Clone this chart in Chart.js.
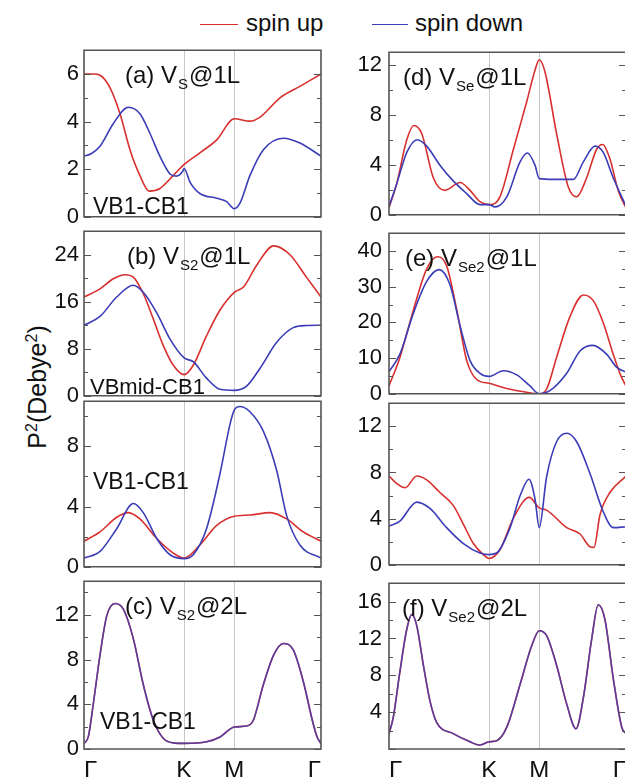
<!DOCTYPE html>
<html>
<head>
<meta charset="utf-8">
<script src="https://cdn.jsdelivr.net/npm/chart.js@4.4.1/dist/chart.umd.min.js"></script>
<style>
  html, body { margin: 0; padding: 0; background: #fff; }
  body { width: 625px; height: 777px; overflow: hidden; position: relative;
         font-family: "Liberation Sans", Arial, sans-serif; color: #111; }
  canvas { position: absolute; }
  .lg-line { position: absolute; height: 0; width: 38px; border-top: 1.6px solid; }
  .lg-text { position: absolute; font-size: 24px; line-height: 24px; white-space: nowrap; }
  #ytitle { position: absolute; left: 37px; top: 387px; font-size: 25px; line-height: 25px;
            white-space: nowrap; transform: translate(-50%, -50%) rotate(-90deg); }
  #ytitle sup { font-size: 16px; vertical-align: 9px; line-height: 0; }
</style>
</head>
<body>
<div class="lg-line" style="left:200px; top:24px; border-color:#d7302f;"></div>
<div class="lg-text" style="left:246px; top:11px;">spin up</div>
<div class="lg-line" style="left:372px; top:24px; width:36px; border-color:#3b3db6;"></div>
<div class="lg-text" style="left:415px; top:11px;">spin down</div>
<div id="ytitle">P<sup>2</sup>(Debye<sup>2</sup>)</div>

<script>
// Squared transition dipole P^2 along the Γ–K–M–Γ path (path length normalised to 1).
const pathLabels = ['Γ', 'K', 'M', 'Γ'];
const pathPos = [0, 0.4226, 0.634, 1];

// (a) V_S @1L, VB1-CB1
const aUpX = [0, 0.04, 0.0675, 0.11, 0.152, 0.194, 0.236, 0.275, 0.32, 0.376, 0.4226, 0.489, 0.56, 0.634, 0.70, 0.743, 0.827, 0.911, 1];
const aUpY = [6.0, 6.0, 5.95, 5.42, 4.33, 2.82, 1.73, 1.08, 1.19, 1.73, 2.2, 2.69, 3.23, 4.12, 4.02, 4.19, 5.0, 5.48, 6.0];
const aDownX = [0, 0.03, 0.0675, 0.124, 0.187, 0.236, 0.278, 0.32, 0.363, 0.39, 0.416, 0.4226, 0.447, 0.489, 0.56, 0.602, 0.634, 0.658, 0.70, 0.757, 0.841, 0.911, 1];
const aDownY = [2.55, 2.65, 2.96, 3.92, 4.6, 4.33, 3.51, 2.55, 1.80, 1.71, 1.9, 2.03, 1.46, 0.98, 0.78, 0.64, 0.34, 0.57, 1.73, 2.82, 3.30, 3.10, 2.55];

// (b) V_S2 @1L, VBmid-CB1
const bUpX = [0, 0.0675, 0.124, 0.173, 0.208, 0.25, 0.293, 0.335, 0.377, 0.4226, 0.461, 0.517, 0.574, 0.634, 0.673, 0.73, 0.80, 0.869, 0.94, 1];
const bUpY = [16.8, 18.2, 19.9, 20.6, 20.2, 17.4, 13.0, 8.5, 5.2, 3.6, 5.2, 10.2, 14.6, 17.6, 18.5, 22.3, 25.5, 24.0, 20.1, 16.8];
const bDownX = [0, 0.0675, 0.138, 0.208, 0.25, 0.307, 0.363, 0.4226, 0.461, 0.517, 0.574, 0.634, 0.686, 0.743, 0.813, 0.883, 0.94, 1];
const bDownY = [12.0, 13.5, 16.8, 18.8, 17.6, 14.1, 9.65, 6.45, 5.8, 3.0, 1.1, 0.93, 1.65, 4.7, 9.1, 11.6, 11.95, 12.0];

// V_S2 @1L, VB1-CB1
const sUpX = [0, 0.0675, 0.138, 0.187, 0.236, 0.307, 0.377, 0.4226, 0.489, 0.56, 0.634, 0.70, 0.785, 0.855, 0.925, 1];
const sUpY = [1.7, 2.32, 3.29, 3.6, 3.18, 1.88, 0.91, 0.58, 1.45, 2.75, 3.36, 3.44, 3.6, 3.18, 2.32, 1.7];
const sDownX = [0, 0.0675, 0.138, 0.208, 0.25, 0.307, 0.363, 0.4226, 0.461, 0.517, 0.574, 0.616, 0.634, 0.658, 0.70, 0.757, 0.813, 0.855, 0.911, 1];
const sDownY = [0.58, 1.02, 2.53, 4.2, 3.6, 1.88, 0.8, 0.54, 0.8, 2.53, 6.2, 9.46, 10.4, 10.65, 10.3, 9.0, 6.4, 3.4, 1.45, 0.58];

// (c) V_S2 @2L, VB1-CB1 (spin up and spin down coincide)
const cX = [0, 0.018, 0.039, 0.0675, 0.096, 0.131, 0.166, 0.208, 0.25, 0.293, 0.335, 0.377, 0.4226, 0.517, 0.574, 0.634, 0.686, 0.714, 0.757, 0.80, 0.841, 0.883, 0.925, 0.967, 0.985, 1];
const cY = [0.5, 1.08, 4.0, 8.4, 11.9, 13.0, 12.5, 9.87, 5.77, 2.55, 0.94, 0.55, 0.5, 0.64, 1.08, 1.96, 2.05, 2.55, 5.77, 8.4, 9.43, 8.85, 6.06, 2.26, 1.0, 0.5];

// (d) V_Se @1L
const dUpX = [0, 0.032, 0.075, 0.105, 0.138, 0.187, 0.236, 0.3, 0.342, 0.384, 0.4226, 0.468, 0.525, 0.581, 0.616, 0.634, 0.658, 0.707, 0.757, 0.792, 0.834, 0.876, 0.902, 0.932, 0.967, 1];
const dUpY = [0.55, 2.45, 6.0, 7.14, 6.5, 2.96, 1.95, 2.58, 1.95, 1.06, 0.81, 1.44, 5.24, 9.04, 11.56, 12.4, 11.44, 6.5, 2.2, 1.44, 2.96, 5.24, 5.62, 4.48, 1.95, 0.55];
const dDownX = [0, 0.032, 0.075, 0.12, 0.159, 0.215, 0.271, 0.328, 0.384, 0.4226, 0.447, 0.497, 0.553, 0.584, 0.616, 0.634, 0.693, 0.778, 0.82, 0.869, 0.904, 0.946, 1];
const dDownY = [0.68, 2.45, 4.99, 6.0, 5.49, 3.97, 2.71, 1.69, 0.81, 0.81, 0.63, 1.44, 4.23, 4.94, 3.97, 2.89, 2.83, 2.83, 4.23, 5.49, 4.99, 2.96, 0.68];

// (e) V_Se2 @1L
const eUpX = [0, 0.046, 0.103, 0.159, 0.204, 0.243, 0.286, 0.328, 0.37, 0.4226, 0.497, 0.581, 0.634, 0.665, 0.707, 0.764, 0.82, 0.862, 0.904, 0.946, 0.98, 1];
const eUpY = [2.2, 10.2, 23.5, 35.0, 38.4, 35.9, 23.5, 9.3, 4.0, 2.93, 1.5, 0.43, 0, 1.33, 10.2, 21.7, 27.7, 26.1, 19.9, 11.1, 4.8, 2.2];
const eDownX = [0, 0.046, 0.103, 0.159, 0.212, 0.257, 0.3, 0.342, 0.384, 0.4226, 0.482, 0.539, 0.595, 0.634, 0.679, 0.75, 0.806, 0.86, 0.918, 0.96, 1];
const eDownY = [6.2, 11.1, 22.6, 31.5, 34.8, 30.6, 19.0, 9.3, 5.75, 4.87, 6.46, 5.3, 2.2, 0, 0.88, 5.75, 12.0, 13.56, 11.1, 7.5, 6.1];

// V_Se2 @1L, lower band pair
const gUpX = [0, 0.039, 0.068, 0.117, 0.159, 0.215, 0.271, 0.314, 0.356, 0.398, 0.4226, 0.468, 0.525, 0.592, 0.634, 0.665, 0.75, 0.806, 0.848, 0.865, 0.89, 0.932, 1];
const gUpY = [7.69, 6.94, 6.67, 7.69, 7.36, 6.26, 5.15, 3.5, 1.84, 0.88, 0.55, 1.3, 4.05, 5.84, 4.93, 4.74, 3.22, 2.67, 1.57, 1.51, 4.32, 6.26, 7.69];
const gDownX = [0, 0.046, 0.117, 0.173, 0.243, 0.314, 0.384, 0.4226, 0.454, 0.511, 0.553, 0.591, 0.616, 0.634, 0.665, 0.707, 0.75, 0.792, 0.848, 0.904, 0.946, 1];
const gDownY = [3.36, 3.78, 5.43, 4.88, 3.22, 1.84, 1.02, 0.88, 1.02, 3.22, 5.98, 7.41, 5.7, 3.22, 7.63, 10.66, 11.4, 10.66, 7.91, 4.6, 3.22, 3.3];

// (f) V_Se2 @2L (spin up and spin down coincide)
const fX = [0, 0.018, 0.046, 0.075, 0.096, 0.117, 0.145, 0.173, 0.201, 0.271, 0.342, 0.381, 0.4226, 0.454, 0.497, 0.553, 0.602, 0.634, 0.665, 0.707, 0.75, 0.789, 0.82, 0.855, 0.883, 0.911, 0.946, 0.982, 1];
const fY = [1.67, 3.44, 8.4, 13.0, 14.6, 13.4, 9.1, 5.2, 2.9, 1.67, 0.78, 0.43, 0.78, 0.89, 2.37, 7.0, 11.2, 12.84, 12.3, 9.1, 4.86, 2.2, 5.56, 11.9, 15.66, 14.07, 7.7, 2.37, 1.67];

// labelled y ticks of each panel
const yTicksA = [0, 2, 4, 6];
const yTicksB = [0, 8, 16, 24];
const yTicksS = [0, 4, 8];
const yTicksC = [0, 4, 8, 12];
const yTicksD = [0, 4, 8, 12];
const yTicksE = [0, 10, 20, 30, 40];
const yTicksG = [0, 4, 8, 12];
const yTicksF = [4, 8, 12, 16];

const FONT = '"Liberation Sans", Arial, sans-serif';
const RED = '#d7302f';
const BLUE = '#3b3db6';
const BLUE_OVER = 'rgba(59, 61, 182, 0.8)';

const COLS = [{ l: 84, r: 321, pad: 5 }, { l: 389, r: 626, pad: 7 }];
const ROWS = [{ t: 48, b: 219 }, { t: 229, b: 398 }, { t: 399, b: 569 }, { t: 579, b: 749 }];

const panels = [
  { col: 0, row: 0, min: 0, max: 7,  ticks: yTicksA, minor: 1, up: [aUpX, aUpY], down: [aDownX, aDownY],
    title: ['(a) V', 'S', '@1L'], tx: 41, band: ['VB1-CB1', 9, 164, 23] },
  { col: 0, row: 1, min: 0, max: 28, ticks: yTicksB, minor: 4, up: [bUpX, bUpY], down: [bDownX, bDownY],
    title: ['(b) V', 'S2', '@1L'], tx: 43, band: ['VBmid-CB1', 6, 163, 22] },
  { col: 0, row: 2, min: 0, max: 11, ticks: yTicksS, minor: 2, up: [sUpX, sUpY], down: [sDownX, sDownY],
    title: null, band: ['VB1-CB1', 9, 88, 23] },
  { col: 0, row: 3, min: 0, max: 15, ticks: yTicksC, minor: 2, up: [cX, cY], down: [cX, cY], merged: true,
    title: ['(c) V', 'S2', '@2L'], tx: 41, band: ['VB1-CB1', 16, 148, 23] },
  { col: 1, row: 0, min: 0, max: 13, ticks: yTicksD, minor: 2, up: [dUpX, dUpY], down: [dDownX, dDownY],
    title: ['(d) V', 'Se', '@1L'], tx: 14 },
  { col: 1, row: 1, min: 0, max: 45, ticks: yTicksE, minor: 5, up: [eUpX, eUpY], down: [eDownX, eDownY],
    title: ['(e) V', 'Se2', '@1L'], tx: 16 },
  { col: 1, row: 2, min: 0, max: 14, ticks: yTicksG, minor: 2, up: [gUpX, gUpY], down: [gDownX, gDownY],
    title: null },
  { col: 1, row: 3, min: 0, max: 18, ticks: yTicksF, minor: 2, up: [fX, fY], down: [fX, fY], merged: true,
    title: ['(f) V', 'Se2', '@2L'], tx: 13 }
];

function points(xs, ys) { return xs.map((x, i) => ({ x: x, y: ys[i] })); }

function resetStroke(ctx) {
  ctx.setLineDash([]);
  ctx.lineDashOffset = 0;
  ctx.globalAlpha = 1;
  ctx.globalCompositeOperation = 'source-over';
  ctx.lineCap = 'butt';
  ctx.lineJoin = 'miter';
}

function decor(p) {
  return {
    id: 'panelDecor',
    beforeDatasetsDraw(chart) {
      const { ctx, chartArea: a, scales: { x } } = chart;
      ctx.save();
      resetStroke(ctx);
      ctx.strokeStyle = '#c8c8c8';
      ctx.lineWidth = 1;
      [pathPos[1], pathPos[2]].forEach(v => {
        const px = Math.round(x.getPixelForValue(v)) + 0.5;
        ctx.beginPath(); ctx.moveTo(px, a.top); ctx.lineTo(px, a.bottom); ctx.stroke();
      });
      ctx.restore();
    },
    afterDraw(chart) {
      const { ctx, chartArea: a, scales: { y } } = chart;
      ctx.save();
      resetStroke(ctx);
      // frame
      ctx.strokeStyle = '#555555';
      ctx.lineWidth = 1.6;
      ctx.beginPath();
      ctx.moveTo(a.left, a.top);
      ctx.lineTo(a.right, a.top);
      ctx.lineTo(a.right, a.bottom);
      ctx.lineTo(a.left, a.bottom);
      ctx.closePath();
      ctx.stroke();
      // inward tick marks on both sides
      const major = p.ticks[1] - p.ticks[0];
      ctx.lineWidth = 1.2;
      ctx.beginPath();
      for (let v = p.min; v <= p.max + 1e-9; v += p.minor) {
        const py = Math.round(y.getPixelForValue(v)) + 0.5;
        const r = v / major;
        const len = Math.abs(r - Math.round(r)) < 1e-6 ? 7 : 4;
        ctx.moveTo(a.left, py); ctx.lineTo(a.left + len, py);
        ctx.moveTo(a.right, py); ctx.lineTo(a.right - len, py);
      }
      ctx.stroke();
      // panel title with subscript
      ctx.fillStyle = '#111';
      ctx.textBaseline = 'alphabetic';
      ctx.textAlign = 'left';
      if (p.title) {
        const x0 = a.left + p.tx, y0 = a.top + 33;
        ctx.font = '24px ' + FONT;
        ctx.fillText(p.title[0], x0, y0);
        let cx = x0 + ctx.measureText(p.title[0]).width + 1;
        ctx.font = '15px ' + FONT;
        ctx.fillText(p.title[1], cx, y0 + 6);
        cx += ctx.measureText(p.title[1]).width + 1;
        ctx.font = '24px ' + FONT;
        ctx.fillText(p.title[2], cx, y0);
      }
      if (p.band) {
        ctx.font = p.band[3] + 'px ' + FONT;
        ctx.fillText(p.band[0], a.left + p.band[1], a.top + p.band[2]);
      }
      ctx.restore();
    }
  };
}

panels.forEach(p => {
  const col = COLS[p.col], row = ROWS[p.row];
  const bottom = p.row === 3;
  const canvas = document.createElement('canvas');
  const w = (col.r - col.l) + 72;
  const h = (row.b - row.t) + 16 + (bottom ? 32 : 16);
  canvas.width = w; canvas.height = h;
  canvas.style.left = (col.l - 60) + 'px';
  canvas.style.top = (row.t - 16) + 'px';
  canvas.style.width = w + 'px';
  canvas.style.height = h + 'px';
  document.body.appendChild(canvas);

  const line = (data, color) => ({
    data: data, borderColor: color, borderWidth: 1.6, pointRadius: 0,
    fill: false, cubicInterpolationMode: 'monotone'
  });

  new Chart(canvas, {
    type: 'line',
    data: {
      // first dataset is painted last, so spin down sits on top
      datasets: [
        line(points(p.down[0], p.down[1]), p.merged ? BLUE_OVER : BLUE),
        line(points(p.up[0], p.up[1]), RED)
      ]
    },
    options: {
      responsive: false,
      animation: false,
      devicePixelRatio: 1,
      layout: { padding: { left: 0, right: 12, top: 16, bottom: bottom ? 0 : 16 } },
      plugins: { legend: { display: false }, tooltip: { enabled: false } },
      scales: {
        x: {
          type: 'linear', min: 0, max: 1, display: bottom,
          grid: { display: false, drawTicks: false }, border: { display: false },
          afterBuildTicks: s => { s.ticks = pathPos.map(v => ({ value: v })); },
          afterFit: s => { if (bottom) s.height = 32; },
          ticks: {
            align: 'inner', autoSkip: false, maxRotation: 0, padding: 8,
            color: '#111', font: { family: FONT, size: 24 },
            callback: (v, i) => pathLabels[i]
          }
        },
        y: {
          type: 'linear', min: p.min, max: p.max, position: 'left',
          grid: { display: false, drawTicks: false }, border: { display: false },
          afterBuildTicks: s => { s.ticks = p.ticks.map(v => ({ value: v })); },
          afterFit: s => { s.width = 60; },
          ticks: {
            autoSkip: false, padding: col.pad, color: '#111',
            font: { family: FONT, size: 22 }
          }
        }
      }
    },
    plugins: [decor(p)]
  });
});
</script>
</body>
</html>
